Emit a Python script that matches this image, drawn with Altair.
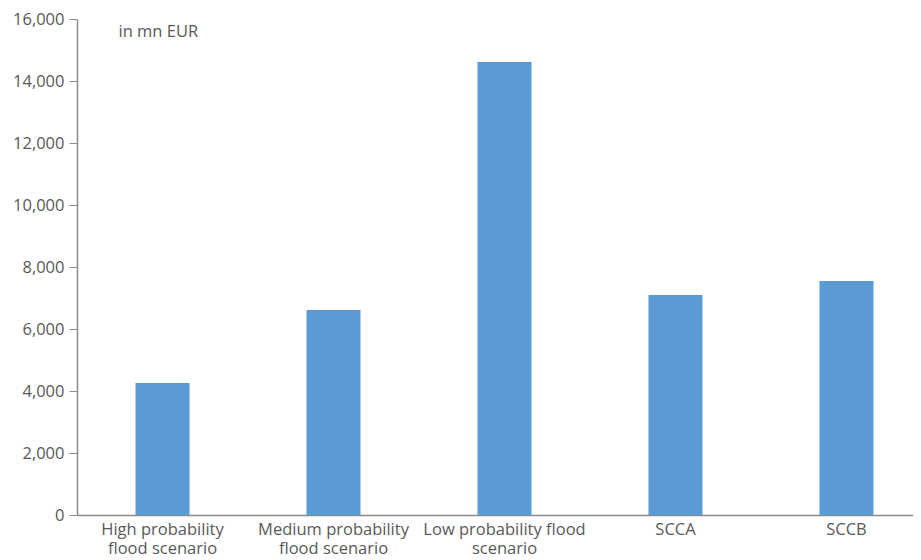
import altair as alt
import pandas as pd

categories = [
    "High probability\nflood scenario",
    "Medium probability\nflood scenario",
    "Low probability flood\nscenario",
    "SCCA",
    "SCCB",
]
values = [4260, 6610, 14610, 7100, 7550]
y_ticks = [0, 2000, 4000, 6000, 8000, 10000, 12000, 14000, 16000]

df = pd.DataFrame({"cat": categories, "val": values})

FONT = "Open Sans"
FS = 16.5
GREY = "#595959"
AXIS = "#8c8c8c"

chart = alt.Chart(df).mark_bar(color="#5B9BD5").encode(
    x=alt.X(
        "cat:N",
        sort=categories,
        scale=alt.Scale(paddingInner=0.684, paddingOuter=0.2865, align=0.597),
        axis=alt.Axis(
            title=None,
            labelAngle=0,
            labelExpr="split(datum.value, '\\n')",
            labelFont=FONT,
            labelFontSize=FS,
            labelColor=GREY,
            labelLineHeight=19,
            labelPadding=6,
            ticks=False,
            domainColor=AXIS,
            domainWidth=1.5,
            labelBaseline="top",
        ),
    ),
    y=alt.Y(
        "val:Q",
        scale=alt.Scale(domain=[0, 16000], nice=False),
        axis=alt.Axis(
            values=y_ticks,
            format=",d",
            grid=False,
            title="in mn EUR",
            titleAngle=0,
            titleX=41,
            titleY=12,
            titleAlign="left",
            titleBaseline="middle",
            titleFont=FONT,
            titleFontSize=FS,
            titleFontWeight="normal",
            titleColor=GREY,
            labelFont=FONT,
            labelFontSize=FS,
            labelColor=GREY,
            labelPadding=5,
            tickSize=8,
            tickColor=AXIS,
            domainColor=AXIS,
            domainWidth=1.5,
        ),
    ),
).properties(
    width=836,
    height=496,
    autosize=alt.AutoSizeParams(type="none"),
    padding={"left": 69, "top": 11, "right": 0, "bottom": 40},
).configure_view(stroke=None)

chart.save("out.html", embed_options={"renderer": "svg", "actions": False})
